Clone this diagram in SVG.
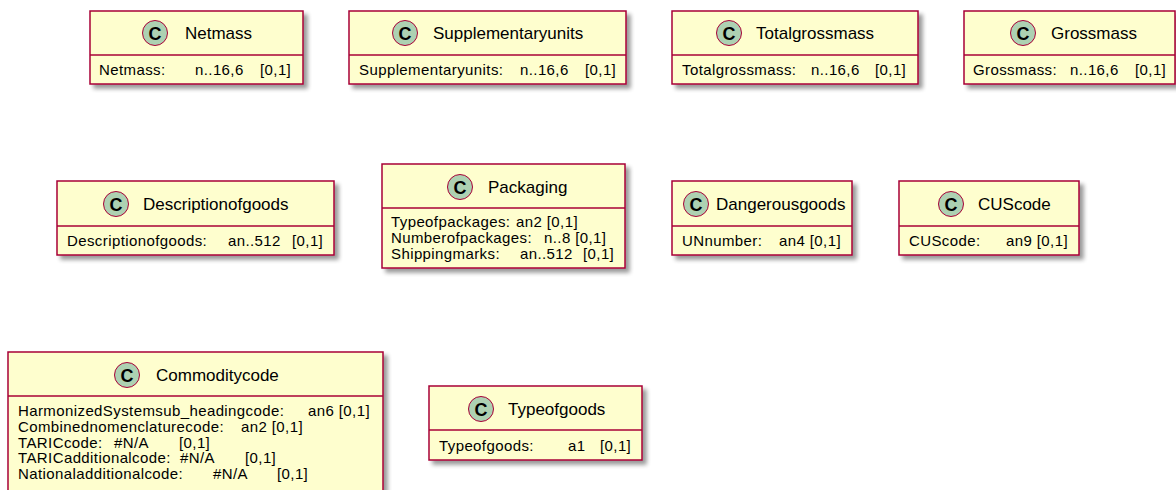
<svg xmlns="http://www.w3.org/2000/svg" width="1176" height="490" viewBox="0 0 1176 490">
<defs>
<filter id="sh" x="-10%" y="-10%" width="130%" height="140%">
<feGaussianBlur in="SourceAlpha" stdDeviation="2"/>
<feOffset dx="4" dy="4" result="b"/>
<feComponentTransfer><feFuncA type="linear" slope="0.4"/></feComponentTransfer>
<feMerge><feMergeNode/><feMergeNode in="SourceGraphic"/></feMerge>
</filter>
</defs>
<style>
.box{fill:#FEFECE;stroke:#A80036;stroke-width:1.5;filter:url(#sh)}
.div{stroke:#A80036;stroke-width:1.5}
.ci{fill:#ADD1B2;stroke:#A80036;stroke-width:1}
.cl{font-family:"Liberation Sans",Arial,sans-serif;font-weight:bold;font-size:18px;fill:#000;text-anchor:middle}
.t{font-family:"Liberation Sans",Arial,sans-serif;font-size:17px;fill:#000}
.a{font-family:"Liberation Sans",Arial,sans-serif;font-size:15px;letter-spacing:0.4px;fill:#000}
</style>
<rect width="1176" height="490" fill="#fff"/>
<g id="connectors"/>

<g id="Netmass">
<rect class="box" x="90" y="11" width="213" height="73"/>
<line class="div" x1="90" y1="55" x2="303" y2="55"/>
<circle class="ci" cx="155" cy="33" r="12.5"/><text class="cl" x="155" y="39.5">C</text>
<text class="t" x="185" y="39">Netmass</text>
<text class="a" y="75"><tspan x="99">Netmass:</tspan><tspan x="195">n..16,6</tspan><tspan x="260">[0,1]</tspan></text>
</g>

<g id="Supplementaryunits">
<rect class="box" x="349" y="11" width="277" height="73"/>
<line class="div" x1="349" y1="55" x2="626" y2="55"/>
<circle class="ci" cx="405" cy="33" r="12.5"/><text class="cl" x="405" y="39.5">C</text>
<text class="t" x="433" y="39">Supplementaryunits</text>
<text class="a" y="75"><tspan x="359">Supplementaryunits:</tspan><tspan x="520">n..16,6</tspan><tspan x="585">[0,1]</tspan></text>
</g>

<g id="Totalgrossmass">
<rect class="box" x="672" y="11" width="246" height="73"/>
<line class="div" x1="672" y1="55" x2="918" y2="55"/>
<circle class="ci" cx="729" cy="33" r="12.5"/><text class="cl" x="729" y="39.5">C</text>
<text class="t" x="756" y="39">Totalgrossmass</text>
<text class="a" y="75"><tspan x="682">Totalgrossmass:</tspan><tspan x="811">n..16,6</tspan><tspan x="875">[0,1]</tspan></text>
</g>

<g id="Grossmass">
<rect class="box" x="964" y="11" width="211" height="73"/>
<line class="div" x1="964" y1="55" x2="1175" y2="55"/>
<circle class="ci" cx="1023" cy="33" r="12.5"/><text class="cl" x="1023" y="39.5">C</text>
<text class="t" x="1051" y="39">Grossmass</text>
<text class="a" y="75"><tspan x="973">Grossmass:</tspan><tspan x="1070">n..16,6</tspan><tspan x="1135">[0,1]</tspan></text>
</g>

<g id="Descriptionofgoods">
<rect class="box" x="57" y="181" width="277" height="74"/>
<line class="div" x1="57" y1="226" x2="334" y2="226"/>
<circle class="ci" cx="116" cy="204" r="12.5"/><text class="cl" x="116" y="210.5">C</text>
<text class="t" x="143" y="210">Descriptionofgoods</text>
<text class="a" y="246"><tspan x="67">Descriptionofgoods:</tspan><tspan x="228">an..512</tspan><tspan x="292">[0,1]</tspan></text>
</g>

<g id="Packaging">
<rect class="box" x="382" y="164" width="243" height="104"/>
<line class="div" x1="382" y1="208" x2="625" y2="208"/>
<circle class="ci" cx="460" cy="187" r="12.5"/><text class="cl" x="460" y="193.5">C</text>
<text class="t" x="488" y="193">Packaging</text>
<text class="a" y="227"><tspan x="391">Typeofpackages:</tspan><tspan x="516">an2 [0,1]</tspan></text>
<text class="a" y="243"><tspan x="391">Numberofpackages:</tspan><tspan x="544">n..8 [0,1]</tspan></text>
<text class="a" y="258.5"><tspan x="391">Shippingmarks:</tspan><tspan x="520">an..512</tspan><tspan x="583">[0,1]</tspan></text>
</g>

<g id="Dangerousgoods">
<rect class="box" x="672" y="181" width="180" height="74"/>
<line class="div" x1="672" y1="226" x2="852" y2="226"/>
<circle class="ci" cx="696" cy="204" r="12.5"/><text class="cl" x="696" y="210.5">C</text>
<text class="t" x="716" y="210">Dangerousgoods</text>
<text class="a" y="246"><tspan x="682">UNnumber:</tspan><tspan x="779">an4 [0,1]</tspan></text>
</g>

<g id="CUScode">
<rect class="box" x="899" y="181" width="180" height="74"/>
<line class="div" x1="899" y1="226" x2="1079" y2="226"/>
<circle class="ci" cx="951" cy="204" r="12.5"/><text class="cl" x="951" y="210.5">C</text>
<text class="t" x="978" y="210">CUScode</text>
<text class="a" y="246"><tspan x="909">CUScode:</tspan><tspan x="1006">an9 [0,1]</tspan></text>
</g>

<g id="Commoditycode">
<rect class="box" x="8" y="352" width="375" height="160"/>
<line class="div" x1="8" y1="396" x2="383" y2="396"/>
<circle class="ci" cx="127" cy="375" r="12.5"/><text class="cl" x="127" y="381.5">C</text>
<text class="t" x="156" y="381">Commoditycode</text>
<text class="a" y="416"><tspan x="18">HarmonizedSystemsub_headingcode:</tspan><tspan x="308">an6 [0,1]</tspan></text>
<text class="a" y="432"><tspan x="18">Combinednomenclaturecode:</tspan><tspan x="241">an2 [0,1]</tspan></text>
<text class="a" y="447.5"><tspan x="18">TARICcode:</tspan><tspan x="114">#N/A</tspan><tspan x="179">[0,1]</tspan></text>
<text class="a" y="463"><tspan x="18">TARICadditionalcode:</tspan><tspan x="180">#N/A</tspan><tspan x="245">[0,1]</tspan></text>
<text class="a" y="479"><tspan x="18">Nationaladditionalcode:</tspan><tspan x="213">#N/A</tspan><tspan x="277">[0,1]</tspan></text>
</g>

<g id="Typeofgoods">
<rect class="box" x="429" y="386" width="213" height="74"/>
<line class="div" x1="429" y1="430" x2="642" y2="430"/>
<circle class="ci" cx="481" cy="409" r="12.5"/><text class="cl" x="481" y="415.5">C</text>
<text class="t" x="508" y="415">Typeofgoods</text>
<text class="a" y="451"><tspan x="439">Typeofgoods:</tspan><tspan x="568">a1</tspan><tspan x="600">[0,1]</tspan></text>
</g>
</svg>
